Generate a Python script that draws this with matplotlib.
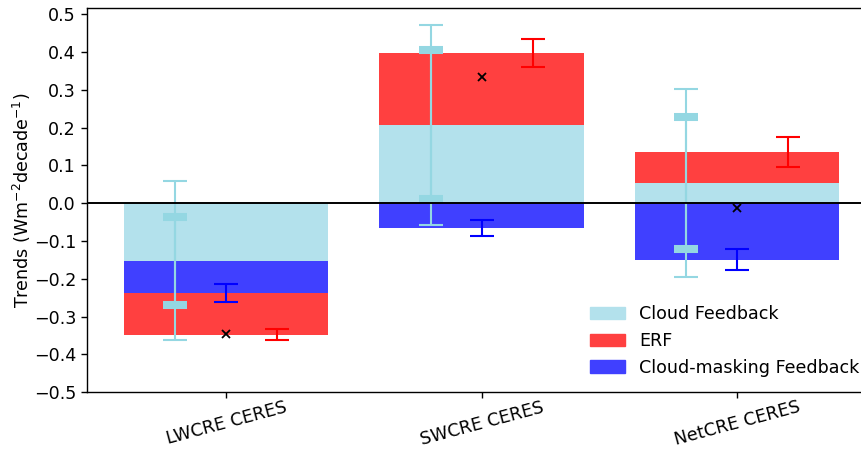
import numpy as np
import matplotlib
matplotlib.use('Agg')
import matplotlib.pyplot as plt
from matplotlib.patches import Patch

categories = ['LWCRE CERES', 'SWCRE CERES', 'NetCRE CERES']
cloud_feedback = [-0.152, 0.207, 0.053]
cloud_masking = [-0.085, -0.065, -0.149]
erf = [-0.111, 0.190, 0.082]
cloud_err_outer = [0.211, 0.264, 0.248]
cloud_err_inner = [0.116, 0.197, 0.174]
masking_err = [0.024, 0.021, 0.028]
erf_err = [0.0146, 0.037, 0.039]
total = [-0.346, 0.333, -0.0135]

C_LB = '#b3e1ec'
C_LB_ERR = '#94d7e2'
C_RED = '#ff4040'
C_BLUE = '#4040ff'

fs = 12.6
plt.rcParams['font.size'] = fs
plt.rcParams['axes.linewidth'] = 1.0
plt.rcParams['xtick.major.width'] = 1.0
plt.rcParams['ytick.major.width'] = 1.0
plt.rcParams['xtick.major.size'] = 4.4
plt.rcParams['ytick.major.size'] = 4.4

fig = plt.figure(figsize=(8.62, 4.49), dpi=100)
W, H = 862, 449
ax = fig.add_axes([87 / W, 1 - 392.3 / H, (875 - 87) / W, (392.3 - 8) / H])

x = np.arange(len(categories))
pos = np.zeros(len(categories))
neg = np.zeros(len(categories))


def stack(vals, color, label):
    global pos, neg
    vals = np.asarray(vals, dtype=float)
    bottom = np.where(vals >= 0, pos, neg)
    ax.bar(x, vals, 0.8, bottom=bottom, color=color, label=label, zorder=1)
    end = bottom + vals
    pos = np.where(vals >= 0, end, pos)
    neg = np.where(vals < 0, end, neg)
    return end


cf_end = stack(cloud_feedback, C_LB, 'Cloud Feedback')
cm_end = stack(cloud_masking, C_BLUE, 'Cloud-masking Feedback')
erf_end = stack(erf, C_RED, 'ERF')

cap = 8.65
# error bars
ax.errorbar(x - 0.2, cf_end, yerr=cloud_err_outer, fmt='none', ecolor=C_LB_ERR,
            elinewidth=1.5, capsize=cap, capthick=1.5, zorder=3)
ax.errorbar(x - 0.2, cf_end, yerr=cloud_err_inner, fmt='none', ecolor=C_LB_ERR,
            elinewidth=1.5, capsize=cap, capthick=5.8, zorder=3)
ax.errorbar(x, cm_end, yerr=masking_err, fmt='none', ecolor='blue',
            elinewidth=1.5, capsize=cap, capthick=1.5, zorder=3)
ax.errorbar(x + 0.2, erf_end, yerr=erf_err, fmt='none', ecolor='red',
            elinewidth=1.5, capsize=cap, capthick=1.5, zorder=3)
ax.plot(x, total, 'x', color='black', markersize=6, mew=1.3, zorder=4)

ax.axhline(0, color='black', linewidth=1.4, zorder=5)

ax.set_ylim(-0.5, 0.516)
ax.set_xlim(-0.545, 2.54)
ax.set_yticks(np.round(np.arange(-0.5, 0.51, 0.1), 1))
ax.set_xticks(x)
ax.set_xticklabels(categories, rotation=15)
ax.tick_params(axis='x', pad=0)
ax.set_ylabel(r'Trends (Wm$^{-2}$decade$^{-1}$)', labelpad=0.5)

handles = [Patch(color=C_LB, label='Cloud Feedback'),
           Patch(color=C_RED, label='ERF'),
           Patch(color=C_BLUE, label='Cloud-masking Feedback')]
ax.legend(handles=handles, loc='lower right', frameon=False)

fig.savefig('out.png', dpi=100)
